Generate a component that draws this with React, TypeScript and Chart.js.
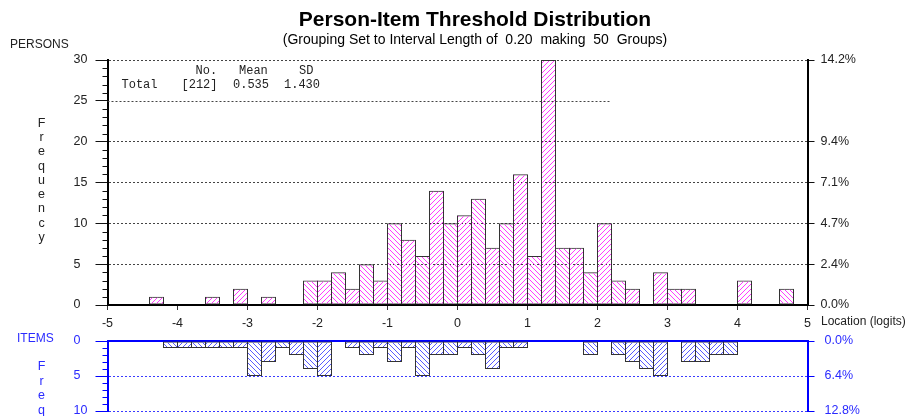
import React, { useEffect, useRef } from 'react';
import { Chart, registerables } from 'chart.js';

Chart.register(...registerables);

// ---- data ----
const binLower = [
  -5.0, -4.8, -4.6, -4.4, -4.2, -4.0, -3.8, -3.6, -3.4, -3.2,
  -3.0, -2.8, -2.6, -2.4, -2.2, -2.0, -1.8, -1.6, -1.4, -1.2,
  -1.0, -0.8, -0.6, -0.4, -0.2, 0.0, 0.2, 0.4, 0.6, 0.8,
  1.0, 1.2, 1.4, 1.6, 1.8, 2.0, 2.2, 2.4, 2.6, 2.8,
  3.0, 3.2, 3.4, 3.6, 3.8, 4.0, 4.2, 4.4, 4.6, 4.8,
];
const binWidth = 0.2;

const personCounts = [
  0, 0, 0, 1, 0, 0, 0, 1, 0, 2,
  0, 1, 0, 0, 3, 3, 4, 2, 5, 3,
  10, 8, 6, 14, 10, 11, 13, 7, 10, 16,
  6, 30, 7, 7, 4, 10, 3, 2, 0, 4,
  2, 2, 0, 0, 0, 3, 0, 0, 2, 0,
];

const itemCounts = [
  0, 0, 0, 0, 1, 1, 1, 1, 1, 1,
  5, 3, 1, 2, 4, 5, 0, 1, 2, 1,
  3, 1, 5, 2, 2, 1, 2, 4, 1, 1,
  0, 0, 0, 0, 2, 0, 2, 3, 4, 5,
  0, 3, 3, 2, 2, 0, 0, 0, 0, 0,
];

const xTickValues = [-5, -4, -3, -2, -1, 0, 1, 2, 3, 4, 5];
const personTickValues = [0, 5, 10, 15, 20, 25, 30];
const personPctTickValues = [0, 5, 10, 15, 20, 30];
const itemTickValues = [0, 5, 10];

const titleText = 'Person-Item Threshold Distribution';
const subtitleText = '(Grouping Set to Interval Length of  0.20  making  50  Groups)';
const statsHeader = ['No.', 'Mean', 'SD'];
const statsRow = ['Total', '[212]', '0.535', '1.430'];
const personN = 212;
const itemN = itemCounts.reduce((a, b) => a + b, 0);
const freqLetters = ['F', 'r', 'e', 'q', 'u', 'e', 'n', 'c', 'y'];
const freqLettersItems = ['F', 'r', 'e', 'q'];
const gridline25End = 2.2;

// ---- styles ----
const SANS = '"Liberation Sans", Arial, sans-serif';
const MONO = '"Liberation Mono", "Courier New", monospace';
const TEXT = '#222222';
const BLUE = '#0000ff';
const BLUE_TEXT = '#2a2aff';
const BLUE_GRID = '#3a3aff';
const MAGENTA = '#ff3cff';
const HATCH_BLUE = '#5a5aff';

function hatch(color: string, forward: boolean): CanvasPattern {
  const s = 5;
  const c = document.createElement('canvas');
  c.width = s;
  c.height = s;
  const g = c.getContext('2d')!;
  g.fillStyle = color;
  for (let i = 0; i < s; i++) {
    const yy = forward ? s - 1 - i : i;
    g.fillRect(i, yy, 1, 1);
  }
  return g.createPattern(c, 'repeat')!;
}

function fixedTicks(values: number[]) {
  return (s: any) => {
    s.ticks = values.map((v) => ({ value: v }));
  };
}

function fitWidth(w: number) {
  return (s: any) => {
    s.width = w;
    s.paddingTop = 0;
    s.paddingBottom = 0;
  };
}

export default function App() {
  const upperRef = useRef<HTMLCanvasElement>(null);
  const lowerRef = useRef<HTMLCanvasElement>(null);

  useEffect(() => {
    const pBack = hatch(MAGENTA, false);
    const pFwd = hatch(MAGENTA, true);
    const bBack = hatch(HATCH_BLUE, false);
    const bFwd = hatch(HATCH_BLUE, true);

    const upperDecor = {
      id: 'upperDecor',
      afterDraw(chart: any) {
        const { ctx } = chart;
        const x = chart.scales.x;
        const y = chart.scales.y;
        ctx.save();
        // minor ticks
        ctx.strokeStyle = '#111';
        ctx.lineWidth = 1;
        ctx.beginPath();
        for (let v = 0; v <= 30; v++) {
          if (v % 5 === 0) continue;
          const py = Math.round(y.getPixelForValue(v)) + 0.5;
          ctx.moveTo(y.right - 5, py);
          ctx.lineTo(y.right, py);
        }
        ctx.stroke();
        // partial gridline at 25
        ctx.setLineDash([2, 2]);
        ctx.strokeStyle = '#444';
        const p25 = Math.round(y.getPixelForValue(25)) + 0.5;
        ctx.beginPath();
        ctx.moveTo(x.left, p25);
        ctx.lineTo(x.getPixelForValue(gridline25End), p25);
        ctx.stroke();
        ctx.setLineDash([]);

        // title + subtitle
        ctx.fillStyle = '#000';
        ctx.textAlign = 'center';
        ctx.textBaseline = 'middle';
        ctx.font = 'bold 21px ' + SANS;
        ctx.fillText(titleText, 475, 20);
        ctx.font = '14px ' + SANS;
        ctx.fillText(subtitleText, 475, 40);

        // PERSONS
        ctx.fillStyle = TEXT;
        ctx.textAlign = 'left';
        ctx.font = '12px ' + SANS;
        ctx.fillText('PERSONS', 10, 45);

        // Frequency letters
        ctx.textAlign = 'center';
        ctx.font = '12.5px ' + SANS;
        freqLetters.forEach((ch, i) => ctx.fillText(ch, 41.5, 123.5 + i * 14.25));

        // stats box
        ctx.textAlign = 'left';
        ctx.font = '12px ' + MONO;
        const hx = [195.5, 239, 299];
        statsHeader.forEach((t, i) => ctx.fillText(t, hx[i], 70.5));
        const rx = [121.5, 181.5, 233, 284];
        statsRow.forEach((t, i) => ctx.fillText(t, rx[i], 84.5));

        // axis title
        ctx.font = '12px ' + SANS;
        ctx.fillText('Location (logits)', x.right + 13.5, 322);
        ctx.restore();
      },
    };

    const lowerDecor = {
      id: 'lowerDecor',
      afterDraw(chart: any) {
        const { ctx } = chart;
        const y = chart.scales.y;
        ctx.save();
        ctx.strokeStyle = BLUE;
        ctx.lineWidth = 1;
        ctx.beginPath();
        for (let v = 0; v <= 10; v++) {
          if (v % 5 === 0) continue;
          const py = Math.round(y.getPixelForValue(v)) + 0.5;
          ctx.moveTo(y.right - 5, py);
          ctx.lineTo(y.right, py);
        }
        ctx.stroke();
        ctx.fillStyle = BLUE_TEXT;
        ctx.textAlign = 'left';
        ctx.textBaseline = 'middle';
        ctx.font = '12px ' + SANS;
        ctx.fillText('ITEMS', 17, 9);
        ctx.textAlign = 'center';
        ctx.font = '12.5px ' + SANS;
        freqLettersItems.forEach((ch, i) => ctx.fillText(ch, 41.5, 36.7 + i * 14.5));
        ctx.restore();
      },
    };

    const upper = new Chart(upperRef.current!, {
      type: 'bar',
      data: {
        datasets: [
          {
            data: binLower.map((lo, i) => ({ x: lo + binWidth / 2, y: personCounts[i] })),
            backgroundColor: (c: any) => (c.dataIndex % 2 === 0 ? pBack : pFwd),
            borderColor: '#333',
            borderWidth: (c: any) => (personCounts[c.dataIndex] > 0 ? 1 : 0),
            borderSkipped: false,
            barThickness: 15,
            inflateAmount: 0,
            xAxisID: 'x',
            yAxisID: 'y',
          } as any,
        ],
      },
      options: {
        animation: false,
        responsive: false,
        layout: { padding: { left: 73.5, top: 60, right: 0, bottom: 0 } },
        plugins: { legend: { display: false }, tooltip: { enabled: false } },
        scales: {
          x: {
            type: 'linear',
            min: -5,
            max: 5,
            offset: false,
            afterBuildTicks: fixedTicks(xTickValues),
            afterFit: (s: any) => { s.height = 25; },
            ticks: {
              color: TEXT,
              font: { family: SANS, size: 12.5 },
              padding: 6,
              maxRotation: 0,
              autoSkip: false,
              callback: (v: any) => String(v),
            },
            grid: { offset: false, drawOnChartArea: false, tickLength: 5, tickColor: '#333' },
            border: { color: '#000', width: 2 },
          },
          y: {
            position: 'left',
            min: 0,
            max: 30,
            afterBuildTicks: fixedTicks(personTickValues),
            afterFit: fitWidth(34),
            ticks: { crossAlign: 'far', color: TEXT, font: { family: SANS, size: 12.5 }, padding: 8, autoSkip: false },
            grid: {
              color: (c: any) => (c.tick && (c.tick.value === 0 || c.tick.value === 25) ? 'rgba(0,0,0,0)' : '#444'),
              tickColor: '#111',
              tickLength: 12,
              lineWidth: 1,
            },
            border: { color: '#000', width: 2, dash: [2, 2] },
          },
          yr: {
            position: 'right',
            min: 0,
            max: 30,
            afterBuildTicks: fixedTicks(personPctTickValues),
            afterFit: fitWidth(104.5),
            ticks: {
              color: TEXT,
              font: { family: SANS, size: 12.5 },
              padding: 6,
              autoSkip: false,
              callback: (v: any) => ((Number(v) / personN) * 100).toFixed(1) + '%',
            },
            grid: { drawOnChartArea: false, tickLength: 7, tickColor: '#111' },
            border: { color: '#000', width: 2 },
          },
        },
      } as any,
      plugins: [upperDecor],
    });

    const lower = new Chart(lowerRef.current!, {
      type: 'bar',
      data: {
        datasets: [
          {
            data: binLower.map((lo, i) => ({ x: lo + binWidth / 2, y: itemCounts[i] })),
            backgroundColor: (c: any) => (c.dataIndex % 2 === 0 ? bBack : bFwd),
            borderColor: '#333',
            borderWidth: (c: any) => (itemCounts[c.dataIndex] > 0 ? 1 : 0),
            borderSkipped: false,
            barThickness: 15,
            inflateAmount: 0,
            xAxisID: 'x',
            yAxisID: 'y',
          } as any,
        ],
      },
      options: {
        animation: false,
        responsive: false,
        layout: { padding: { left: 73.5, top: 11, right: 0, bottom: 19 } },
        plugins: { legend: { display: false }, tooltip: { enabled: false } },
        scales: {
          x: {
            type: 'linear',
            min: -5,
            max: 5,
            offset: false,
            position: 'top',
            afterFit: (s: any) => { s.height = 0; },
            ticks: { display: false },
            grid: { display: false, offset: false },
            border: { color: BLUE, width: 2 },
          },
          y: {
            position: 'left',
            min: 0,
            max: 10,
            reverse: true,
            afterBuildTicks: fixedTicks(itemTickValues),
            afterFit: fitWidth(34),
            ticks: { crossAlign: 'far', color: BLUE_TEXT, font: { family: SANS, size: 12.5 }, padding: 8, autoSkip: false },
            grid: {
              color: (c: any) => (c.tick && c.tick.value === 0 ? 'rgba(0,0,0,0)' : BLUE_GRID),
              tickColor: BLUE,
              tickLength: 12,
              lineWidth: 1,
            },
            border: { color: BLUE, width: 2, dash: [2, 2] },
          },
          yr: {
            position: 'right',
            min: 0,
            max: 10,
            reverse: true,
            afterBuildTicks: fixedTicks(itemTickValues),
            afterFit: fitWidth(104.5),
            ticks: {
              color: BLUE_TEXT,
              font: { family: SANS, size: 12.5 },
              padding: 10,
              autoSkip: false,
              callback: (v: any) => ((Number(v) / itemN) * 100).toFixed(1) + '%',
            },
            grid: { drawOnChartArea: false, tickLength: 7, tickColor: BLUE },
            border: { color: BLUE, width: 2 },
          },
        },
      } as any,
      plugins: [lowerDecor],
    });

    return () => {
      upper.destroy();
      lower.destroy();
    };
  }, []);

  return (
    <div
      style={{
        position: 'absolute',
        left: 0,
        top: 0,
        width: 912,
        height: 416,
        overflow: 'hidden',
        background: '#fff',
      }}
    >
      <canvas
        ref={upperRef}
        width={912}
        height={330}
        style={{ position: 'absolute', left: 0, top: 0, width: 912, height: 330 }}
      />
      <canvas
        ref={lowerRef}
        width={912}
        height={100}
        style={{ position: 'absolute', left: 0, top: 330, width: 912, height: 100 }}
      />
    </div>
  );
}
